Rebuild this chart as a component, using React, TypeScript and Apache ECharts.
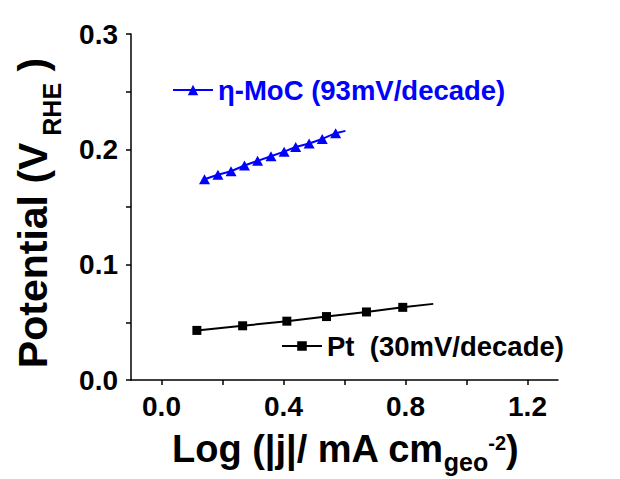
import React, { useEffect, useRef } from 'react';
import * as echarts from 'echarts';

// η-MoC data (triangles)
const mocX = [0.141, 0.185, 0.228, 0.272, 0.315, 0.359, 0.402, 0.440, 0.484, 0.527, 0.571];
const mocY = [0.174, 0.178, 0.181, 0.186, 0.190, 0.194, 0.198, 0.202, 0.205, 0.209, 0.214];
// end of η-MoC fitted line
const mocEndX = [0.603];
const mocEndY = [0.216];

// Pt data (squares)
const ptX = [0.116, 0.266, 0.411, 0.541, 0.672, 0.791];
const ptY = [0.043, 0.047, 0.051, 0.055, 0.059, 0.063];
// end of Pt fitted line
const ptEndX = [0.891];
const ptEndY = [0.066];

const seriesNames = ['η-MoC (93mV/decade)', 'Pt  (30mV/decade)'];

const xTickValues = [0, 0.2, 0.4, 0.6, 0.8, 1.0, 1.2];
const xLabelValues = [0, 0.4, 0.8, 1.2];
const yTickValues = [0, 0.05, 0.1, 0.15, 0.2, 0.25, 0.3];
const yLabelValues = [0, 0.1, 0.2, 0.3];

const FONT = "'Liberation Sans', Arial, Helvetica, sans-serif";
const BLUE = '#0000ff';
const BLACK = '#000000';

export default function App() {
  const ref = useRef<HTMLDivElement>(null);

  useEffect(() => {
    if (!ref.current) return;
    const chart = echarts.init(ref.current, null, { renderer: 'svg' });

    const mocData = mocX.map((x, i) => [x, mocY[i]]);
    const ptData = ptX.map((x, i) => [x, ptY[i]]);
    const mocTail = [mocData[mocData.length - 1], [mocEndX[0], mocEndY[0]]];
    const ptTail = [ptData[ptData.length - 1], [ptEndX[0], ptEndY[0]]];

    const axisLineStyle = { color: BLACK, width: 1.5 };
    const labelStyle = {
      fontSize: 28,
      fontWeight: 'bold' as const,
      color: BLACK,
      fontFamily: FONT,
    };

    chart.setOption({
      animation: false,
      backgroundColor: '#ffffff',
      grid: {
        left: 131,
        right: 62,
        top: 34,
        bottom: 99,
        containLabel: false,
        outerBoundsMode: 'none',
      },
      xAxis: {
        type: 'value',
        min: -0.1,
        max: 1.3,
        axisLine: { show: true, onZero: false, lineStyle: axisLineStyle },
        axisTick: {
          show: true,
          inside: false,
          length: 5,
          customValues: xTickValues,
          lineStyle: axisLineStyle,
        },
        axisLabel: {
          ...labelStyle,
          customValues: xLabelValues,
          margin: 12,
          formatter: (v: number) => v.toFixed(1),
        },
        splitLine: { show: false },
      },
      yAxis: {
        type: 'value',
        min: 0,
        max: 0.3,
        axisLine: { show: true, onZero: false, lineStyle: axisLineStyle },
        axisTick: {
          show: true,
          inside: false,
          length: 5,
          customValues: yTickValues,
          lineStyle: axisLineStyle,
        },
        axisLabel: {
          ...labelStyle,
          customValues: yLabelValues,
          margin: 13,
          formatter: (v: number) => v.toFixed(1),
        },
        splitLine: { show: false },
      },
      legend: [
        {
          data: [seriesNames[0]],
          left: 172,
          top: 76,
          padding: 0,
          itemWidth: 40,
          itemHeight: 13,
          selectedMode: false,
          textStyle: { color: BLUE, fontSize: 27.5, fontWeight: 'bold', fontFamily: FONT },
        },
        {
          data: [seriesNames[1]],
          left: 281,
          top: 332,
          padding: 0,
          itemWidth: 40,
          itemHeight: 12,
          selectedMode: false,
          textStyle: { color: BLACK, fontSize: 27.5, fontWeight: 'bold', fontFamily: FONT },
        },
      ],
      graphic: [
        {
          type: 'text',
          x: 345,
          y: 429.5,
          style: {
            text: '{a|Log (|j|/ mA cm}{b|geo}{c|-2}{a|)}',
            align: 'center',
            verticalAlign: 'top',
            textAlign: 'center',
            textVerticalAlign: 'top',
            fill: BLACK,
            rich: {
              a: { fontSize: 38, fontWeight: 'bold', fontFamily: FONT, fill: BLACK, verticalAlign: 'top' },
              b: { fontSize: 25, fontWeight: 'bold', fontFamily: FONT, fill: BLACK, verticalAlign: 'top', padding: [20, 0, 0, 0] },
              c: { fontSize: 20, fontWeight: 'bold', fontFamily: FONT, fill: BLACK, verticalAlign: 'top', padding: [3, 0, 0, 0] },
            },
          },
        },
        {
          type: 'text',
          x: 12,
          y: 213,
          rotation: Math.PI / 2,
          style: {
            text: '{a|Potential (V}{b| RHE}{a| )}',
            align: 'center',
            verticalAlign: 'top',
            textAlign: 'center',
            textVerticalAlign: 'top',
            fill: BLACK,
            rich: {
              a: { fontSize: 41, fontWeight: 'bold', fontFamily: FONT, fill: BLACK, verticalAlign: 'top' },
              b: { fontSize: 25, fontWeight: 'bold', fontFamily: FONT, fill: BLACK, verticalAlign: 'top', padding: [27, 0, 0, 0] },
            },
          },
        },
      ],
      series: [
        {
          type: 'line',
          data: mocTail,
          symbol: 'none',
          silent: true,
          lineStyle: { color: BLUE, width: 2 },
          z: 1,
        },
        {
          type: 'line',
          data: ptTail,
          symbol: 'none',
          silent: true,
          lineStyle: { color: BLACK, width: 2 },
          z: 1,
        },
        {
          name: seriesNames[0],
          type: 'line',
          data: mocData,
          symbol: 'triangle',
          symbolSize: [11, 10],
          color: BLUE,
          itemStyle: { color: BLUE },
          lineStyle: { color: BLUE, width: 2 },
          z: 2,
        },
        {
          name: seriesNames[1],
          type: 'line',
          data: ptData,
          symbol: 'rect',
          symbolSize: 9,
          color: BLACK,
          itemStyle: { color: BLACK },
          lineStyle: { color: BLACK, width: 2 },
          z: 2,
        },
      ],
    });

    return () => {
      chart.dispose();
    };
  }, []);

  return (
    <div
      ref={ref}
      style={{ position: 'fixed', left: 0, top: 0, width: 620, height: 479, background: '#fff' }}
    />
  );
}
